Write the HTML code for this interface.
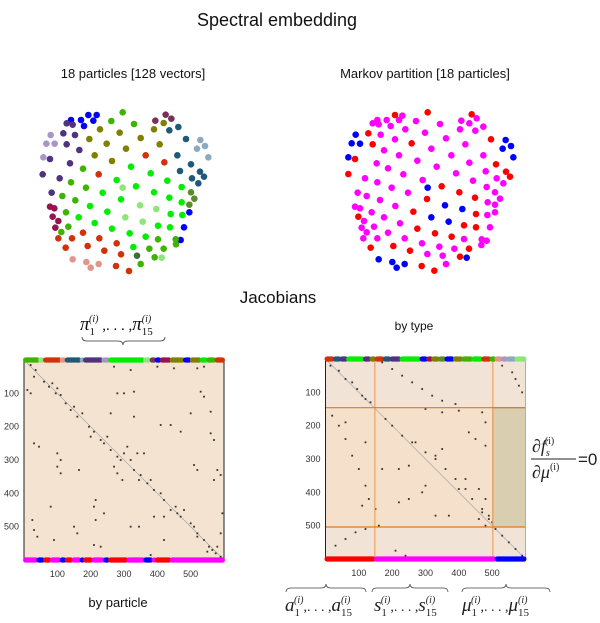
<!DOCTYPE html>
<html><head><meta charset="utf-8">
<style>
body{margin:0;background:#fff;width:600px;height:623px;overflow:hidden}
svg{display:block}
text{font-family:"Liberation Sans",sans-serif}
.m{font-family:"Liberation Serif",serif;font-style:italic}
</style></head>
<body>
<svg id="fig" width="600" height="623" viewBox="0 0 600 623">
<text x="277" y="26" font-size="18" text-anchor="middle" fill="#111">Spectral embedding</text>
<text x="133" y="78" font-size="13" text-anchor="middle" fill="#111">18 particles [128 vectors]</text>
<text x="425" y="78" font-size="13" text-anchor="middle" fill="#111">Markov partition [18 particles]</text>
<text x="278" y="303" font-size="17" text-anchor="middle" fill="#111">Jacobians</text>
<text x="414" y="330" font-size="12" text-anchor="middle" fill="#111">by type</text>
<text x="118" y="607" font-size="13" text-anchor="middle" fill="#111">by particle</text>

<g>
<text class="m" x="80" y="330" font-size="19" fill="#111">π<tspan font-size="11" font-style="normal" dy="5">1</tspan><tspan font-size="10" dy="-13" dx="-6">(i)</tspan><tspan font-size="15" dy="8" font-style="normal"> ,. . . ,</tspan><tspan font-size="19" dy="0">π</tspan><tspan font-size="11" font-style="normal" dy="5">15</tspan><tspan font-size="10" dy="-13" dx="-11">(i)</tspan></text>
<path d="M82,337 q0,4 5,4 h31 q5,0 5,4 q0,-4 5,-4 h32 q5,0 5,-4" fill="none" stroke="#333" stroke-width="0.8"/>
</g>

<g>
<text class="m" x="532" y="452" font-size="18" fill="#222">∂f<tspan font-size="10" dy="4">s</tspan><tspan font-size="10" dy="-12" dx="-5" font-style="normal">(i)</tspan></text>
<line x1="531" y1="459" x2="576" y2="459" stroke="#222" stroke-width="1"/>
<text class="m" x="532" y="478" font-size="18" fill="#222">∂μ<tspan font-size="10" dy="-8" font-style="normal">(i)</tspan></text>
<text x="578" y="465" font-size="17" fill="#222" font-family="Liberation Serif">=0</text>
</g>

<g>
<path d="M286,592 q0,-4 5,-4 h30 q5,0 5,-4 q0,4 5,4 h30 q5,0 5,4" fill="none" stroke="#444" stroke-width="0.8"/>
<path d="M372,592 q0,-4 5,-4 h28 q5,0 5,-4 q0,4 5,4 h28 q5,0 5,4" fill="none" stroke="#444" stroke-width="0.8"/>
<path d="M462,592 q0,-4 5,-4 h34 q5,0 5,-4 q0,4 5,4 h34 q5,0 5,4" fill="none" stroke="#444" stroke-width="0.8"/>
<text class="m" x="285" y="611" font-size="19" fill="#222">a<tspan font-size="11" font-style="normal" dy="5">1</tspan><tspan font-size="10" dy="-13" dx="-6">(i)</tspan><tspan font-size="14" dy="8" font-style="normal">,. . . ,</tspan>a<tspan font-size="11" font-style="normal" dy="5">15</tspan><tspan font-size="10" dy="-13" dx="-11">(i)</tspan></text>
<text class="m" x="374" y="611" font-size="19" fill="#222">s<tspan font-size="11" font-style="normal" dy="5">1</tspan><tspan font-size="10" dy="-13" dx="-6">(i)</tspan><tspan font-size="14" dy="8" font-style="normal">,. . . ,</tspan>s<tspan font-size="11" font-style="normal" dy="5">15</tspan><tspan font-size="10" dy="-13" dx="-11">(i)</tspan></text>
<text class="m" x="462" y="611" font-size="19" fill="#222">μ<tspan font-size="11" font-style="normal" dy="5">1</tspan><tspan font-size="10" dy="-13" dx="-6">(i)</tspan><tspan font-size="14" dy="8" font-style="normal">,. . . ,</tspan>μ<tspan font-size="11" font-style="normal" dy="5">15</tspan><tspan font-size="10" dy="-13" dx="-11">(i)</tspan></text>
</g>
</svg>
<script>
// ---------- data ----------
const leftColors = {B:'#0000ff',P:'#50327f',L:'#aa96c6',O:'#808000',M:'#78325a',T:'#1e5a78',G2:'#8caabe',G:'#3cb400',BG:'#00ee00',LG:'#8ce678',OG:'#5a8c28',R:'#d2320a',C:'#961450',S:'#e1968c',DG:'#3c6e3c'};
const leftPtsX = [213,243,265,290,280,252,568,552,542, 200,218,190,225,200,238,150,210,128,179,155, 152,139,164,130, 300,359,268,320,378,284,336,422,479,462,491, 497,514,466, 508,535,558,532,573,540,576,600,612,595, 601,615,591,625, 368,334,402,249,213,258,187,226,198,205,184,474,448,491,464,422,527,528, 393,452,350,408,308,502,545,462,363,508,545,270,322,236,512,547,284,336,474,510,389,437,400, 368,420,469,376,428,485, 573,583,568, 437,493,296,249,216,175,298,350,197,263,313,363,348,387, 150,163,158,175,166, 218,259,272,296, 411];
const leftPtsY = [90,90,75,75,92,108,367,412,450, 100,104,130,135,163,180,207,220,253,265,308, 135,161,161,202, 118,128,147,161,176,196,213,144,163,118,99, 74,86,92, 121,111,147,196,223,243,265,245,260,280, 150,168,176,202, 67,93,102,236,277,293,318,331,367,410,426,448,476,476,502,522,448,463, 230,250,270,289,308,272,291,307,328,323,337,348,365,382,372,375,399,416,407,412,430,440,471, 293,346,357,382,395,503, 307,326,344, 196,217,253,428,445,445,445,460,473,468,482,493,528,543, 350,355,380,393,413, 508,516,533,522, 497];
const leftPtsC = ['B','B','B','B','B','B','B','B','B', 'P','P','P','P','P','P','P','P','P','P','P', 'L','L','L','L', 'O','O','O','O','O','O','O','O','O','O','O', 'M','M','M', 'T','T','T','T','T','T','T','T','T','T', 'G2','G2','G2','G2', 'G','G','G','G','G','G','G','G','G','G','G','G','G','G','G','G','G','G', 'BG','BG','BG','BG','BG','BG','BG','BG','BG','BG','BG','BG','BG','BG','BG','BG','BG','BG','BG','BG','BG','BG','BG', 'LG','LG','LG','LG','LG','LG', 'OG','OG','OG', 'R','R','R','R','R','R','R','R','R','R','R','R','R','R', 'C','C','C','C','C', 'S','S','S','S', 'DG'];

const rightColors = {r:'#ff0000',b:'#0000ff',f:'#ff00ff'};
const rightPtsX = [225,323,455,145,158,275,513,105,85,528,558,570,365,418,321,465,115,280,468,292,345,395,432,468,152,220,270,447,420,305,343, 107,95,120,85,557,573,548,580,323,375,427,334,386,176,217,230,254,440, 172,158,200,176,212,247,237,288,360,424,448,470,490,420,466,182,256,315,378,225,436,192,334,394,490,237,170,292,448,204,250,350,408,497,135,172,308,459,530,550,215,113,140,264,500,525,180,540,503,105,120,226,525,155,192,502,525,132,240,162,125,140,204,510,130,172,254,432,485,500,306,358,403,484,322,368,378];
const rightPtsY = [75,67,73,130,163,160,148,207,252,223,245,260,289,307,327,323,380,365,372,416,430,440,406,412,473,468,482,476,500,528,542, 134,160,161,202,150,168,176,202,293,346,357,382,395,508,516,533,522,503, 90,100,90,103,108,77,90,93,102,92,100,85,110,118,122,134,118,128,145,148,163,181,176,196,196,196,220,212,218,235,253,230,250,244,265,277,270,272,265,280,293,308,318,308,291,307,330,326,337,350,355,348,344,367,382,375,367,393,400,410,413,427,428,412,445,445,445,447,448,452,460,470,476,465,492,497,522];
const rightPtsC = 'rrrrrrrrrrrrrrrrrrrrrrrrrrrrrrrbbbbbbbbbbbbbbbbbbfffffffffffffffffffffffffffffffffffffffffffffffffffffffffffffffffffffffffffffffff'.split('');

const tickValues = [100,200,300,400,500];
const tickLabels = ['100','200','300','400','500'];

const leftTopStart = [0,45,60,110,125,170,180,235,255,360,380,395,410,440,480,500,530,550,575];
const leftTopEnd   = [45,60,110,125,170,180,235,255,360,380,395,410,440,480,500,530,550,575,600];
const leftTopCol   = ['G','LG','R','S','T','G2','P','L','BG','LG','M','B','C','O','B','O','BG','G','R'];
const leftBotStart = [0,40,60,80,110,125,145,170,180,205,240,255,310,360,385,395,440];
const leftBotEnd   = [40,60,80,110,125,145,170,180,205,240,255,310,360,385,395,440,600];
const leftBotCol   = ['f','b','r','f','b','r','f','b','r','f','b','r','f','b','f','r','f'];

const rightTopStart = [0,25,45,65,115,135,150,175,195,225,285,305,320,340,360,385,410,440,470,495,510,530,545,570];
const rightTopEnd   = [25,45,65,115,135,150,175,195,225,285,305,320,340,360,385,410,440,470,495,510,530,545,570,600];
const rightTopCol   = ['R','T','P','BG','P','O','R','T','P','BG','B','C','O','OG','B','O','G','BG','R','G','S','L','G2','LG'];
const rightBotStart = [0,148,510];
const rightBotEnd   = [148,510,600];
const rightBotCol   = ['r','f','b'];

const leftCells = [[20,15],[35,30],[30,50],[60,65],[75,80],[85,70],[95,100],[110,105],[100,85],[125,130],[140,150],[150,140],[160,170],[175,160],[195,200],[210,215],[200,230],[230,240],[240,250],[250,230],[260,270],[280,290],[290,300],[300,280],[270,320],[330,330],[350,345],[345,360],[370,370],[380,360],[360,280],[340,280],[310,260],[320,300],[280,340],[295,360],[390,390],[410,400],[420,420],[440,450],[455,440],[460,460],[470,470],[480,450],[500,490],[510,500],[520,520],[540,540],[555,560],[565,570],[575,580],[580,560],[590,590],[550,575],[270,20],[320,30],[400,20],[450,25],[520,25],[540,20],[280,100],[300,100],[330,95],[530,95],[540,110],[560,155],[500,160],[410,195],[440,195],[470,215],[560,220],[570,240],[30,250],[45,260],[100,280],[110,300],[100,320],[110,340],[165,330],[510,315],[520,330],[580,330],[590,345],[570,360],[215,420],[210,440],[240,460],[215,480],[320,500],[345,500],[390,470],[420,470],[520,530],[25,480],[30,510],[40,530],[90,540],[150,500],[160,520],[210,555],[230,560],[380,585],[420,540],[590,520],[595,460],[10,90],[20,100],[80,440],[260,160],[330,170]];
const rightCells = [[15,20],[40,35],[60,60],[80,70],[95,90],[110,110],[120,120],[135,130],[170,10],[200,30],[230,50],[260,70],[290,90],[320,110],[350,125],[390,135],[530,20],[560,40],[570,60],[580,80],[590,100],[20,170],[40,200],[60,240],[80,290],[100,330],[120,380],[130,420],[180,180],[200,200],[230,230],[260,250],[300,280],[330,300],[360,330],[390,360],[420,390],[440,420],[470,450],[490,480],[500,490],[300,150],[350,160],[400,155],[470,160],[480,190],[430,220],[450,240],[480,260],[350,270],[330,290],[250,320],[220,330],[170,330],[270,250],[400,390],[460,390],[480,420],[470,460],[460,480],[490,470],[330,470],[370,470],[300,380],[290,400],[250,420],[110,440],[150,450],[220,430],[420,360],[120,250],[60,190],[510,510],[530,530],[550,550],[570,570],[590,590],[30,560],[60,540],[90,520],[120,510],[160,500],[480,500],[210,575],[240,590]];

// ---------- drawing ----------
const NS='http://www.w3.org/2000/svg';
const svg=document.getElementById('fig');
function mk(tag,attrs,parent){const e=document.createElementNS(NS,tag);for(const k in attrs)e.setAttribute(k,attrs[k]);(parent||svg).appendChild(e);return e;}

function sx(ox){return v=>ox+v/3;}
function drawScatter(name,X,Y,C,pal,ox,oy){
  const g=mk('g',{});
  
  
  const fx=sx(ox), fy=sx(oy);
  for(let i=0;i<X.length;i++){
    const c=mk('circle',{cx:fx(X[i]),cy:fy(Y[i]),r:3.3,fill:pal[C[i]]},g);
    
    
  }
}
drawScatter('particle-scatter',leftPtsX,leftPtsY,leftPtsC,leftColors,0,90);
drawScatter('markov-scatter',rightPtsX,rightPtsY,rightPtsC,rightColors,320,90);

function axis(x0,y0){const k=200/600;return{x:v=>x0+v*k,y:v=>y0+v*k};}
const allPal=Object.assign({},leftColors,rightColors);

function drawMatrix(name,x0,y0,cells,topS,topE,topC,botS,botE,botC,typed){
  const a=axis(x0,y0);
  const g=mk('g',{});
  
  
  if(!typed){
    const bg=mk('rect',{x:a.x(0),y:a.y(0),width:a.x(600)-a.x(0),height:a.y(600)-a.y(0),fill:'#f5e3d1'},g);
    
    
  } else {
    const b1=mk('rect',{x:a.x(0),y:a.y(0),width:a.x(600)-a.x(0),height:a.y(600)-a.y(0),fill:'#f1e4d6'},g);
    
    
    const b2=mk('rect',{x:a.x(0),y:a.y(146),width:a.x(502)-a.x(0),height:a.y(504)-a.y(146),fill:'#f5e0cb'},g);
    
    
    const b3=mk('rect',{x:a.x(502),y:a.y(146),width:a.x(600)-a.x(502),height:a.y(504)-a.y(146),fill:'#d9cfb0',stroke:'#5a7a30','stroke-width':1},g);
    
    
  }
  const d=mk('line',{x1:a.x(0),y1:a.y(0),x2:a.x(600),y2:a.y(600),stroke:'#999','stroke-width':0.6},g);
  
  
  for(const [c,r] of cells){
    const p=mk('rect',{x:a.x(c)-0.9,y:a.y(r)-0.9,width:1.8,height:1.8,fill:'#333'},g);
    
    
  }
  if(typed){
    for(const v of [148,502]){
      const l=mk('line',{x1:a.x(v),y1:a.y(0),x2:a.x(v),y2:a.y(600),stroke:'#f2a060','stroke-width':1.2},g);
      
      
    }
    for(const v of [146,504]){
      const l=mk('line',{x1:a.x(0),y1:a.y(v),x2:a.x(600),y2:a.y(v),stroke:'#e07a20','stroke-width':1.2},g);
      
      
    }
    const tl=mk('line',{x1:a.x(0),y1:a.y(0),x2:a.x(600),y2:a.y(0),stroke:'#e07a20','stroke-width':1.2},g);
    
    
  }
  for(const xv of [0,600]){
    const l=mk('line',{x1:a.x(xv),y1:a.y(0),x2:a.x(xv),y2:a.y(600),stroke:typed&&xv===600?'#e0a070':'#222','stroke-width':1},g);
    
    
  }
  function bar(S,E,C,yv,nm){
    for(let i=0;i<S.length;i++){
      const s=mk('rect',{x:a.x(S[i])-1,y:a.y(yv)-2.6,width:a.x(E[i])-a.x(S[i])+2,height:5.2,rx:2.6,fill:allPal[C[i]]},g);
      
      
    }
  }
  bar(topS,topE,topC,0,'top-color-segment');
  bar(botS,botE,botC,600,'bottom-color-segment');
  for(let i=0;i<tickValues.length;i++){
    const t=mk('text',{x:a.x(tickValues[i]),y:a.y(600)+17,'font-size':9,'text-anchor':'middle',fill:'#333'},g);
    t.textContent=tickLabels[i];
    
    
    const u=mk('text',{x:a.x(0)-5,y:a.y(tickValues[i])+3,'font-size':9,'text-anchor':'end',fill:'#333'},g);
    u.textContent=tickLabels[i];
    
    
  }
}
drawMatrix('particle-jacobian',24,360,leftCells,leftTopStart,leftTopEnd,leftTopCol,leftBotStart,leftBotEnd,leftBotCol,false);
drawMatrix('type-jacobian',325.5,359,rightCells,rightTopStart,rightTopEnd,rightTopCol,rightBotStart,rightBotEnd,rightBotCol,true);
</script>
</body></html>
